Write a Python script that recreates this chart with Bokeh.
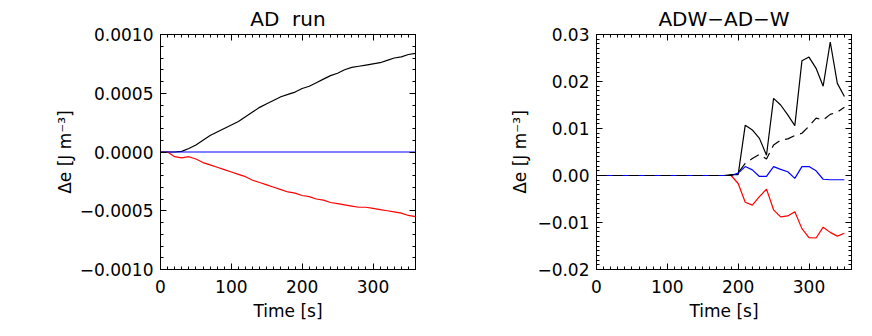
from bokeh.plotting import figure
from bokeh.layouts import row
from bokeh.models import FixedTicker, LinearAxis, Range1d, CustomJSTickFormatter
from bokeh.embed import file_html
from bokeh.resources import INLINE

# ---------------- data ----------------
t_left = [0, 10, 20, 30, 40, 50, 60, 70, 80, 90, 100, 110, 120, 130, 140, 150, 160, 170, 180,
          190, 200, 210, 220, 230, 240, 250, 260, 270, 280, 290, 300, 310, 320, 330, 340, 350, 360]
ad_black = [0, 0, 0, 0.000005, 0.00003, 0.00006, 0.0001, 0.00014, 0.00017, 0.0002, 0.00023,
            0.00026, 0.0003, 0.00034, 0.00038, 0.00041, 0.00044, 0.00047, 0.00049, 0.00051,
            0.00054, 0.00056, 0.00059, 0.00062, 0.00065, 0.00067, 0.0007, 0.00072, 0.00073,
            0.00074, 0.00075, 0.00076, 0.00078, 0.0008, 0.00081, 0.00083, 0.00084]
ad_red = [0, 0, -0.00004, -0.00005, -0.00004, -0.00006, -0.00009, -0.00011, -0.00013, -0.00015,
          -0.00017, -0.00019, -0.00021, -0.00024, -0.00026, -0.00028, -0.0003, -0.00032, -0.00034,
          -0.00035, -0.00037, -0.00038, -0.0004, -0.00041, -0.00043, -0.00044, -0.00045, -0.00046,
          -0.00047, -0.00047, -0.00048, -0.00049, -0.0005, -0.00051, -0.00052, -0.00054, -0.00055]
ad_blue = [0] * len(t_left)

t_right = [0, 10, 20, 30, 40, 50, 60, 70, 80, 90, 100, 110, 120, 130, 140, 150, 160, 170,
           180, 190, 200, 210, 220, 230, 240, 250, 260, 270, 280, 290, 300, 310, 320, 330, 340, 350]
_z = [0] * 19
adw_black = _z + [0.0002, 0.0002, 0.0107, 0.0097, 0.0079, 0.0043, 0.0164, 0.0150, 0.0129, 0.0106,
                  0.0244, 0.0252, 0.0228, 0.0190, 0.0284, 0.0196, 0.0168]
adw_dash = _z + [0.0, 0.0006, 0.0026, 0.0036, 0.0045, 0.0035, 0.0065, 0.0075, 0.0078, 0.0085,
                 0.0090, 0.0105, 0.0122, 0.0118, 0.0130, 0.0135, 0.0145]
adw_blue = _z + [0.0, 0.0005, 0.0019, 0.0012, -0.0002, -0.0002, 0.0019, 0.0013, 0.0008, -0.0006,
                 0.0019, 0.0019, 0.0010, -0.0008, -0.0009, -0.0009, -0.0009]
adw_red = _z + [0.0, -0.0017, -0.0057, -0.0063, -0.0045, -0.0029, -0.0073, -0.0088, -0.0086,
                -0.0077, -0.0113, -0.0132, -0.0133, -0.0110, -0.0121, -0.0129, -0.0123]

x_ticks = [0, 100, 200, 300]
x_tick_labels = ["0", "100", "200", "300"]
left_y_ticks = [-0.001, -0.0005, 0.0, 0.0005, 0.001]
left_y_labels = ["\u22120.0010", "\u22120.0005", "0.0000", "0.0005", "0.0010"]
right_y_ticks = [-0.02, -0.01, 0.0, 0.01, 0.02, 0.03]
right_y_labels = ["\u22120.02", "\u22120.01", "0.00", "0.01", "0.02", "0.03"]

titles = ["AD\u00a0\u00a0run", "ADW\u2212AD\u2212W"]
x_label = "Time\u00a0[s]"
y_label = "\u0394e\u00a0[J\u00a0m\u207b\u00b3]"

FONT = "DejaVu Sans"


def make_fig(title, width, right_border, yr, yticks, ylabels, yminor, xminor, ylab_standoff):
    p = figure(width=width, height=330, frame_width=255, frame_height=235,
               min_border_left=160, min_border_right=right_border, min_border_top=33,
               min_border_bottom=62, output_backend="svg", toolbar_location=None,
               x_range=Range1d(0, 360), y_range=Range1d(*yr))
    p.title.text = title
    p.title.align = "center"
    p.title.text_font = FONT
    p.title.text_font_size = "20px"
    p.title.text_font_style = "normal"
    p.title.text_color = "black"
    p.title.standoff = 8
    p.title.offset = 0
    p.grid.visible = False
    p.outline_line_color = "black"
    p.outline_line_width = 1
    p.outline_line_alpha = 1
    p.background_fill_color = "white"
    p.border_fill_color = "white"

    xt = FixedTicker(ticks=x_ticks, minor_ticks=xminor)
    yt = FixedTicker(ticks=yticks, minor_ticks=yminor)
    p.xaxis.ticker = xt
    p.yaxis.ticker = yt
    p.xaxis.major_label_overrides = {v: s for v, s in zip(x_ticks, x_tick_labels)}
    p.yaxis.major_label_overrides = {v: s for v, s in zip(yticks, ylabels)}
    p.xaxis.axis_label = x_label
    p.yaxis.axis_label = y_label
    for ax in (p.xaxis[0], p.yaxis[0]):
        ax.axis_line_color = "black"
        ax.major_tick_in = 6
        ax.major_tick_out = 0
        ax.minor_tick_in = 3
        ax.minor_tick_out = 0
        ax.major_tick_line_color = "black"
        ax.minor_tick_line_color = "black"
        ax.major_label_text_font = FONT
        ax.major_label_text_font_size = "17px"
        ax.major_label_text_color = "black"
        ax.axis_label_text_font = FONT
        ax.axis_label_text_font_size = "17px"
        ax.axis_label_text_font_style = "normal"
        ax.axis_label_text_color = "black"
    p.xaxis.major_label_standoff = 10
    p.xaxis.axis_label_standoff = 5
    p.yaxis.major_label_standoff = 7
    p.yaxis.axis_label_standoff = ylab_standoff

    # mirrored tick axes on top and right (ticks only, no labels)
    blank = CustomJSTickFormatter(code="return ''")
    for loc, tk in (("above", xt), ("right", yt)):
        ax = LinearAxis(ticker=tk, formatter=blank, major_tick_in=6, major_tick_out=0,
                        minor_tick_in=3, minor_tick_out=0, major_label_standoff=0,
                        axis_line_color="black", major_tick_line_color="black",
                        minor_tick_line_color="black")
        p.add_layout(ax, loc)
    return p


xminor = list(range(0, 361, 10))
left_minor = [round(-0.001 + i * 0.0001, 5) for i in range(21)]
right_minor = [round(-0.02 + i * 0.001, 4) for i in range(51)]

p1 = make_fig(titles[0], 436, 21, (-0.001, 0.001), left_y_ticks, left_y_labels,
              left_minor, xminor, 2)
p1.line(t_left, ad_black, line_color="black", line_width=1.2)
p1.line(t_left, ad_red, line_color="red", line_width=1.2)
p1.line(t_left, ad_blue, line_color="blue", line_width=1.2)

p2 = make_fig(titles[1], 428, 13, (-0.02, 0.03), right_y_ticks, right_y_labels,
              right_minor, xminor, 4)
p2.line(t_right, adw_black, line_color="black", line_width=1.2)
p2.line(t_right, adw_red, line_color="red", line_width=1.2)
p2.line(t_right, adw_blue, line_color="blue", line_width=1.2)
p2.line(t_right, adw_dash, line_color="black", line_width=1.2, line_dash="10 6")

layout = row(p1, p2)
open("out.html", "w").write(file_html(layout, INLINE))
